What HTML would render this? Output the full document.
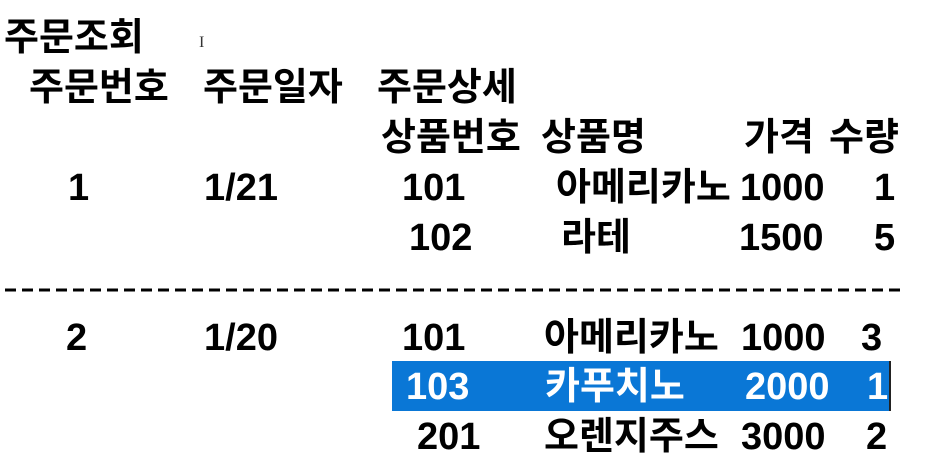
<!DOCTYPE html>
<html><head><meta charset="utf-8">
<style>
html,body{margin:0;padding:0;background:#fff;width:948px;height:471px;overflow:hidden;position:relative}
.t{position:absolute;font-family:"Liberation Sans","Noto Sans CJK KR",sans-serif;font-weight:bold;font-size:38px;line-height:40px;color:#000;white-space:nowrap}
.w{color:#fff}
#sel{position:absolute;left:392px;top:361px;width:497px;height:50px;background:#0a77d6;border-right:2px solid #222}
#dash{position:absolute;left:5px;top:287px}
#cursor{position:absolute;left:199px;top:34px;font-family:"Liberation Serif",serif;font-size:16px;color:#333}
</style></head><body>
<div id="cursor">I</div>
<div class="t" style="left:4px;top:18px">주문조회</div>
<div class="t" style="left:29px;top:68px">주문번호</div>
<div class="t" style="left:203px;top:68px">주문일자</div>
<div class="t" style="left:377px;top:68px">주문상세</div>
<div class="t" style="left:381px;top:118px">상품번호</div>
<div class="t" style="left:541px;top:118px">상품명</div>
<div class="t" style="left:744px;top:118px">가격</div>
<div class="t" style="left:829px;top:118px">수량</div>

<div class="t" style="left:68px;top:168px">1</div>
<div class="t" style="left:204px;top:168px">1/21</div>
<div class="t" style="left:402px;top:168px">101</div>
<div class="t" style="left:556px;top:168px">아메리카노</div>
<div class="t" style="left:740px;top:168px">1000</div>
<div class="t" style="left:874px;top:168px">1</div>

<div class="t" style="left:409px;top:218px">102</div>
<div class="t" style="left:561px;top:218px">라테</div>
<div class="t" style="left:739px;top:218px">1500</div>
<div class="t" style="left:874px;top:218px">5</div>

<svg id="dash" width="900" height="6"><line x1="0" y1="3" x2="896" y2="3" stroke="#000" stroke-width="3" stroke-dasharray="11,6"/></svg>

<div class="t" style="left:66px;top:318px">2</div>
<div class="t" style="left:204px;top:318px">1/20</div>
<div class="t" style="left:402px;top:318px">101</div>
<div class="t" style="left:544px;top:318px">아메리카노</div>
<div class="t" style="left:741px;top:318px">1000</div>
<div class="t" style="left:861px;top:318px">3</div>

<div id="sel"></div>
<div class="t w" style="left:406px;top:367px">103</div>
<div class="t w" style="left:545px;top:367px">카푸치노</div>
<div class="t w" style="left:745px;top:367px">2000</div>
<div class="t w" style="left:867px;top:367px">1</div>

<div class="t" style="left:417px;top:417px">201</div>
<div class="t" style="left:544px;top:417px">오렌지주스</div>
<div class="t" style="left:741px;top:417px">3000</div>
<div class="t" style="left:866px;top:417px">2</div>
</body></html>
